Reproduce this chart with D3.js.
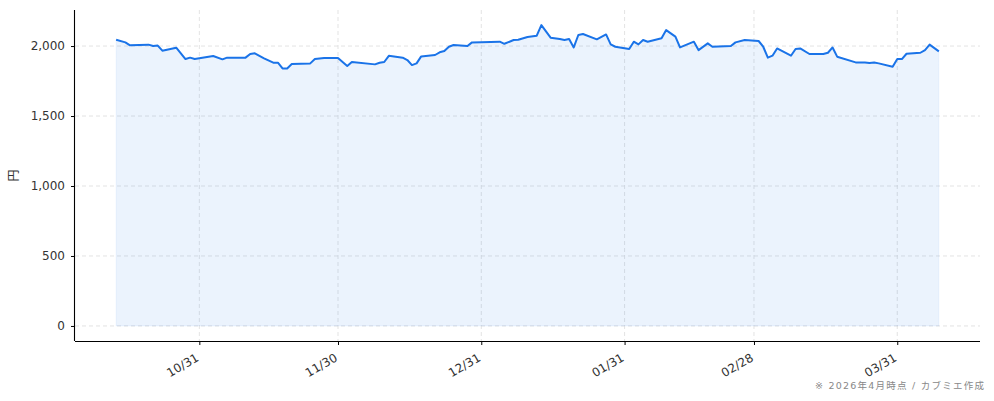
<!DOCTYPE html>
<html>
<head>
<meta charset="utf-8">
<script src="https://cdn.jsdelivr.net/npm/d3@7"></script>
<style>
  html, body { margin: 0; padding: 0; background: #fff; }
  svg { display: block; }
  text { font-family: "DejaVu Sans", "Noto Sans CJK JP", sans-serif; }
</style>
</head>
<body>
<svg id="chart" width="994" height="401"></svg>
<script>
const dates = [
  "2025-10-13","2025-10-15","2025-10-16","2025-10-20","2025-10-21","2025-10-22","2025-10-23","2025-10-26","2025-10-28","2025-10-29","2025-10-30",
  "2025-11-03","2025-11-05","2025-11-06","2025-11-10","2025-11-11","2025-11-12","2025-11-14","2025-11-16","2025-11-17","2025-11-18","2025-11-19","2025-11-20","2025-11-24","2025-11-25","2025-11-27","2025-11-30",
  "2025-12-02","2025-12-03","2025-12-08","2025-12-09","2025-12-10","2025-12-11","2025-12-14","2025-12-15","2025-12-16","2025-12-17","2025-12-18","2025-12-21","2025-12-22","2025-12-23","2025-12-24","2025-12-25","2025-12-28","2025-12-29",
  "2026-01-04","2026-01-05","2026-01-07","2026-01-08","2026-01-10","2026-01-12","2026-01-13","2026-01-15","2026-01-17","2026-01-18","2026-01-19","2026-01-20","2026-01-21","2026-01-22","2026-01-25","2026-01-27","2026-01-28","2026-01-29",
  "2026-02-01","2026-02-02","2026-02-03","2026-02-04","2026-02-05","2026-02-08","2026-02-09","2026-02-11","2026-02-12","2026-02-15","2026-02-16","2026-02-18","2026-02-19","2026-02-23","2026-02-24","2026-02-26",
  "2026-03-01","2026-03-02","2026-03-03","2026-03-04","2026-03-05","2026-03-08","2026-03-09","2026-03-10","2026-03-12","2026-03-15","2026-03-16","2026-03-17","2026-03-18","2026-03-22","2026-03-24","2026-03-25","2026-03-26","2026-03-27","2026-03-30","2026-03-31",
  "2026-04-01","2026-04-02","2026-04-05","2026-04-06","2026-04-07","2026-04-09"
];
const prices = [
  2045,2026,2005,2010,2000,2003,1967,1988,1907,1917,1907,
  1929,1905,1917,1917,1943,1948,1912,1881,1881,1840,1840,1871,1876,1907,1914,1914,
  1857,1886,1869,1881,1886,1930,1917,1900,1864,1876,1926,1936,1955,1964,1995,2007,2000,2026,
  2031,2016,2043,2045,2065,2074,2150,2060,2050,2043,2050,1990,2079,2086,2048,2083,2012,1995,
  1979,2031,2012,2043,2031,2055,2114,2067,1990,2031,1971,2019,1995,2000,2026,2043,
  2036,1995,1917,1931,1983,1931,1979,1983,1943,1943,1952,1990,1924,1883,1883,1879,1883,1876,1852,1907,
  1907,1945,1952,1971,2010,1962
];
const xTickDates = ["2025-10-31","2025-11-30","2025-12-31","2026-01-31","2026-02-28","2026-03-31"];
const yTicks = [0, 500, 1000, 1500, 2000];
const yLabel = "円";
const footnote = "※ 2026年4月時点 / カブミエ作成";

(function () {
const parse = d3.utcParse("%Y-%m-%d");
const data = dates.map((d, i) => ({ date: parse(d), value: prices[i] }));

const svg = d3.select("#chart");
const mLeft = 75, mRight = 980, mTop = 10, mBottom = 341;

const [d0, d1] = d3.extent(data, d => d.date);
const span = d1 - d0;
const x = d3.scaleUtc()
  .domain([new Date(+d0 - span * 0.05), new Date(+d1 + span * 0.05)])
  .range([mLeft, mRight]);

const vmax = d3.max(prices);
const vmin = 0;
const vspan = vmax - vmin;
const y = d3.scaleLinear()
  .domain([vmin - vspan * 0.05, vmax + vspan * 0.05])
  .range([mBottom, mTop]);

const grid = svg.append("g");
grid.selectAll("line.gy").data(yTicks).join("line")
  .attr("x1", mLeft).attr("x2", mRight)
  .attr("y1", d => y(d)).attr("y2", d => y(d))
  .attr("stroke", "#dcdcdc").attr("stroke-width", 0.8).attr("stroke-dasharray", "4,3");
grid.selectAll("line.gx").data(xTickDates.map(parse)).join("line")
  .attr("x1", d => x(d)).attr("x2", d => x(d))
  .attr("y1", mTop).attr("y2", mBottom)
  .attr("stroke", "#dcdcdc").attr("stroke-width", 0.8).attr("stroke-dasharray", "4,3");

const area = d3.area().x(d => x(d.date)).y0(y(0)).y1(d => y(d.value));
svg.append("path").datum(data)
  .attr("d", area)
  .attr("fill", "#1a73e8").attr("fill-opacity", 0.085)
  .attr("stroke", "#1a73e8").attr("stroke-opacity", 0.06).attr("stroke-width", 1);

const line = d3.line().x(d => x(d.date)).y(d => y(d.value));
svg.append("path").datum(data)
  .attr("d", line)
  .attr("fill", "none").attr("stroke", "#1a73e8").attr("stroke-width", 2)
  .attr("stroke-linejoin", "round");

const xAxis = d3.axisBottom(x)
  .tickValues(xTickDates.map(parse))
  .tickFormat(d3.utcFormat("%m/%d"))
  .tickSize(4).tickPadding(3);
const gx = svg.append("g").attr("transform", `translate(0,${mBottom})`).call(xAxis);
gx.select(".domain").attr("d", `M${mLeft},0.5H${mRight}`).attr("stroke", "#000").attr("stroke-width", 1.1);
gx.selectAll(".tick line").attr("stroke", "#000");
gx.selectAll(".tick text")
  .attr("font-size", 12).attr("fill", "#333")
  .attr("text-anchor", "end")
  .attr("y", 0).attr("x", 0).attr("dy", "0.3em")
  .attr("transform", "translate(-2,16) rotate(-30)");

const yAxis = d3.axisLeft(y)
  .tickValues(yTicks)
  .tickFormat(d3.format(","))
  .tickSize(4).tickPadding(6);
const gy = svg.append("g").attr("transform", `translate(${mLeft},0)`).call(yAxis);
gy.select(".domain").attr("d", `M-0.5,${mTop}V${mBottom}`).attr("stroke", "#000").attr("stroke-width", 1.1);
gy.selectAll(".tick line").attr("stroke", "#000");
gy.selectAll(".tick text").attr("font-size", 12).attr("fill", "#333");

svg.append("text")
  .attr("transform", `translate(18,${(mTop + mBottom) / 2}) rotate(-90)`)
  .attr("text-anchor", "middle")
  .attr("font-size", 12).attr("fill", "#333")
  .text(yLabel);

svg.append("text")
  .attr("x", 984).attr("y", 389)
  .attr("text-anchor", "end")
  .attr("font-size", 9.5).attr("fill", "#888")
  .attr("textLength", 169).attr("lengthAdjust", "spacing")
  .text(footnote);
})();
</script>
</body>
</html>
